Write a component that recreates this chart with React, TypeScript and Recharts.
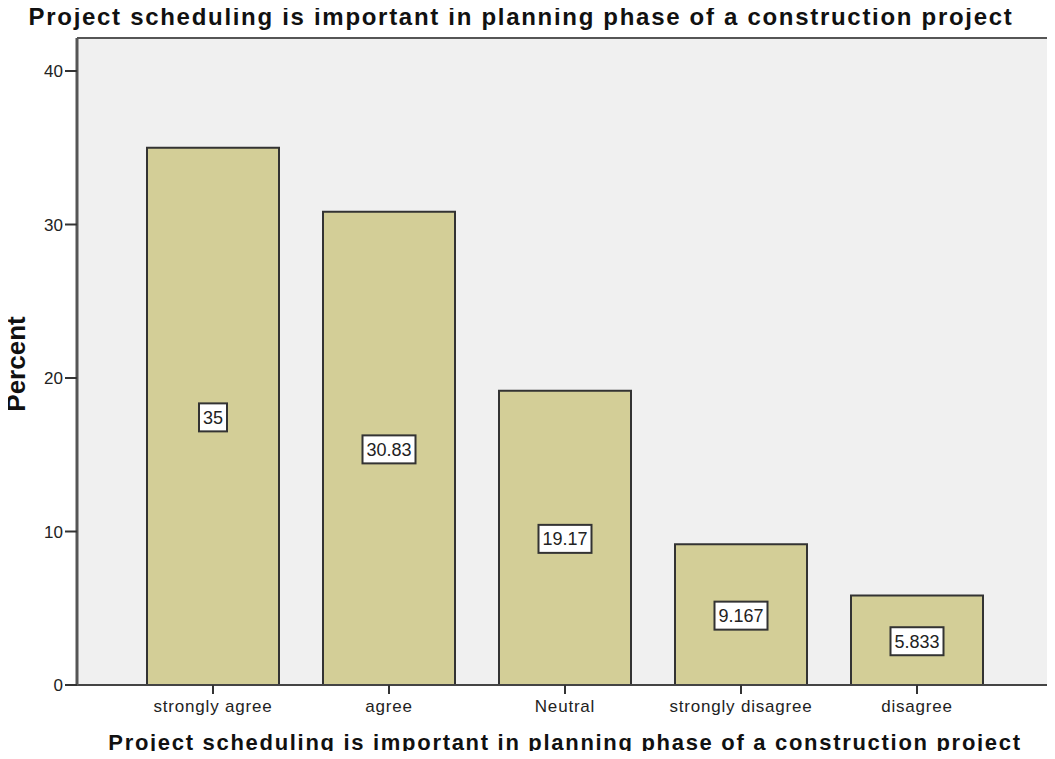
import React from 'react'
import {
  BarChart,
  Bar,
  XAxis,
  YAxis,
  CartesianGrid,
  LabelList
} from 'recharts'

const categories = ['strongly agree', 'agree', 'Neutral', 'strongly disagree', 'disagree']
const percents = [35, 30.83, 19.17, 9.167, 5.833]
const yTicks = [0, 10, 20, 30, 40]

const title = 'Project scheduling is important in planning phase of a construction project'

const data = categories.map((c, i) => ({ name: c, value: percents[i] }))

const FONT = '"Liberation Sans", Arial, sans-serif'

// white box with the value, centred in the bar
const ValueBox = (props: any) => {
  const { x, y, width, height, value } = props
  const s = String(value)
  const textW = s.split('').reduce((w, ch) => w + (ch === '.' ? 5 : 10), 0)
  const boxW = textW + 8
  const boxH = 28
  const cx = x + width / 2
  const cy = y + height / 2 + 1
  return (
    <g>
      <rect
        x={cx - boxW / 2}
        y={cy - boxH / 2}
        width={boxW}
        height={boxH}
        fill="#ffffff"
        stroke="#333333"
        strokeWidth={2}
      />
      <text
        x={cx}
        y={cy + 6.5}
        textAnchor="middle"
        fontSize={18}
        fontFamily={FONT}
        fill="#222222"
      >
        {s}
      </text>
    </g>
  )
}

const boldText: React.CSSProperties = {
  position: 'absolute',
  whiteSpace: 'nowrap',
  fontWeight: 'bold',
  color: '#111111',
  lineHeight: '28px'
}

export default function App() {
  return (
    <div
      style={{
        position: 'relative',
        width: 1055,
        height: 759,
        margin: -8,
        overflow: 'hidden',
        background: '#ffffff',
        fontFamily: FONT
      }}
    >
      <BarChart
        width={1055}
        height={759}
        data={data}
        margin={{ top: 37, right: 4, bottom: 0, left: 0 }}
        barSize={132}
      >
        <CartesianGrid fill="#f0f0f0" horizontal={false} vertical={false} />
        <XAxis
          dataKey="name"
          height={74}
          padding={{ left: 48, right: 45 }}
          tickSize={9}
          tickMargin={6}
          axisLine={{ stroke: '#444444', strokeWidth: 2 }}
          tickLine={{ stroke: '#333333', strokeWidth: 2 }}
          tick={{ fill: '#222222', fontSize: 17, fontFamily: FONT, letterSpacing: 0.8 }}
        />
        <XAxis
          xAxisId="top"
          dataKey="name"
          orientation="top"
          height={1}
          tick={false}
          tickLine={false}
          axisLine={{ stroke: '#555555', strokeWidth: 2 }}
        />
        <YAxis
          width={77}
          domain={[0, 42.15]}
          ticks={yTicks}
          tickSize={12}
          tickMargin={2}
          axisLine={{ stroke: '#555555', strokeWidth: 3 }}
          tickLine={{ stroke: '#333333', strokeWidth: 2 }}
          tick={{ fill: '#222222', fontSize: 17, fontFamily: FONT }}
        />
        <YAxis
          yAxisId="right"
          orientation="right"
          width={1}
          domain={[0, 42.15]}
          tick={false}
          tickLine={false}
          axisLine={{ stroke: '#555555', strokeWidth: 2 }}
        />
        <Bar
          dataKey="value"
          fill="#d3ce97"
          stroke="#333333"
          strokeWidth={2}
          isAnimationActive={false}
        >
          <LabelList dataKey="value" content={ValueBox} />
        </Bar>
      </BarChart>
      <div style={{ ...boldText, left: 521, top: 3, transform: 'translateX(-50%)', fontSize: 24, letterSpacing: 1.7 }}>
        {title}
      </div>
      <div style={{ ...boldText, left: 565, top: 729, transform: 'translateX(-50%)', fontSize: 22, letterSpacing: 1.7 }}>
        {title}
      </div>
      <div
        style={{
          ...boldText,
          left: 16,
          top: 364,
          transform: 'translate(-50%, -50%) rotate(-90deg)',
          fontSize: 26,
          lineHeight: '30px'
        }}
      >
        Percent
      </div>
    </div>
  )
}
